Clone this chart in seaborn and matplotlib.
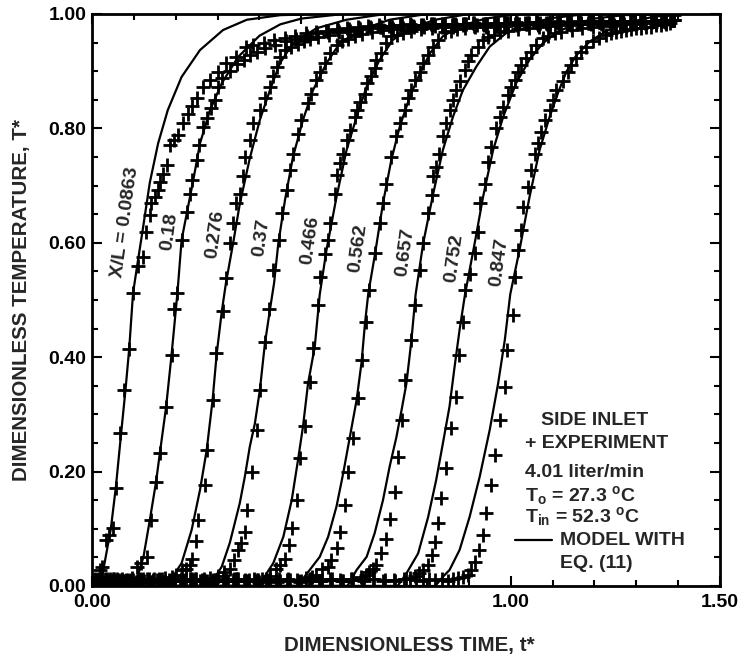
import numpy as np
import pandas as pd
import matplotlib
matplotlib.use("Agg")
import matplotlib.pyplot as plt
import seaborn as sns
from matplotlib.ticker import MultipleLocator, FormatStrFormatter

# ---------------- data ----------------
curve_labels = ["X/L = 0.0863", "0.18", "0.276", "0.37", "0.466",
                "0.562", "0.657", "0.752", "0.847"]

# model curves: (t*, T*)
model_0863 = [(0.0, 0.0), (0.015, 0.0), (0.022, 0.01), (0.030, 0.04), (0.045, 0.10),
              (0.057, 0.173), (0.070, 0.27), (0.080, 0.343), (0.089, 0.416), (0.098, 0.512),
              (0.110, 0.57), (0.121, 0.622), (0.138, 0.705), (0.158, 0.774), (0.181, 0.832),
              (0.214, 0.89), (0.258, 0.937), (0.313, 0.972), (0.37, 0.99), (0.45, 0.998),
              (0.55, 1.0), (1.40, 1.0)]
model_018 = [(0.0, 0.0), (0.09, 0.0), (0.10, 0.005), (0.111, 0.022), (0.123, 0.051),
             (0.138, 0.115), (0.153, 0.182), (0.162, 0.232), (0.177, 0.313), (0.190, 0.404),
             (0.204, 0.512), (0.214, 0.605), (0.242, 0.71), (0.258, 0.774), (0.282, 0.832),
             (0.31, 0.879), (0.349, 0.925), (0.40, 0.962), (0.45, 0.982), (0.50, 0.992),
             (0.60, 1.0), (1.40, 1.0)]
model_0276 = [(0.0, 0.0), (0.18, 0.0), (0.198, 0.022), (0.214, 0.04), (0.238, 0.098),
              (0.258, 0.168), (0.274, 0.238), (0.288, 0.325), (0.298, 0.407), (0.310, 0.48),
              (0.320, 0.53), (0.337, 0.599), (0.353, 0.668), (0.377, 0.748), (0.401, 0.815),
              (0.425, 0.867), (0.449, 0.914), (0.48, 0.949), (0.536, 0.975), (0.608, 0.99),
              (0.70, 1.0), (1.40, 1.0)]
model_037 = [(0.0, 0.0), (0.28, 0.0), (0.297, 0.019), (0.31, 0.034), (0.329, 0.075),
             (0.353, 0.145), (0.365, 0.191), (0.377, 0.244), (0.389, 0.284), (0.401, 0.343),
             (0.413, 0.424), (0.425, 0.483), (0.435, 0.53), (0.445, 0.599), (0.461, 0.675),
             (0.48, 0.75), (0.504, 0.815), (0.528, 0.867), (0.56, 0.914), (0.592, 0.949),
             (0.64, 0.972), (0.711, 0.99), (0.80, 1.0), (1.40, 1.0)]
model_0466 = [(0.0, 0.0), (0.40, 0.0), (0.417, 0.022), (0.433, 0.04), (0.457, 0.086),
              (0.477, 0.15), (0.492, 0.22), (0.504, 0.279), (0.516, 0.354), (0.532, 0.418),
              (0.544, 0.51), (0.56, 0.587), (0.584, 0.68), (0.608, 0.762), (0.632, 0.82),
              (0.656, 0.873), (0.687, 0.92), (0.719, 0.955), (0.76, 0.975), (0.82, 0.99),
              (0.90, 1.0), (1.40, 1.0)]
model_0562 = [(0.0, 0.0), (0.49, 0.0), (0.52, 0.028), (0.544, 0.051), (0.564, 0.086),
              (0.584, 0.139), (0.60, 0.197), (0.616, 0.261), (0.632, 0.325), (0.644, 0.392),
              (0.652, 0.459), (0.660, 0.512), (0.675, 0.576), (0.695, 0.669), (0.715, 0.745),
              (0.735, 0.803), (0.759, 0.855), (0.783, 0.896), (0.807, 0.931), (0.838, 0.961),
              (0.88, 0.979), (0.94, 0.992), (1.02, 1.0), (1.40, 1.0)]
model_0657 = [(0.0, 0.0), (0.61, 0.0), (0.632, 0.028), (0.656, 0.051), (0.675, 0.092),
              (0.695, 0.15), (0.711, 0.209), (0.727, 0.26), (0.740, 0.31), (0.751, 0.354),
              (0.763, 0.43), (0.773, 0.51), (0.791, 0.599), (0.815, 0.686), (0.838, 0.762),
              (0.862, 0.82), (0.886, 0.867), (0.918, 0.908), (0.95, 0.943), (0.99, 0.967),
              (1.04, 0.983), (1.10, 0.993), (1.18, 1.0), (1.40, 1.0)]
model_0752 = [(0.0, 0.0), (0.73, 0.0), (0.751, 0.022), (0.779, 0.057), (0.803, 0.121),
              (0.822, 0.185), (0.838, 0.249), (0.854, 0.314), (0.866, 0.383), (0.878, 0.448),
              (0.891, 0.51), (0.914, 0.599), (0.934, 0.68), (0.958, 0.762), (0.982, 0.82),
              (1.013, 0.879), (1.045, 0.92), (1.077, 0.949), (1.109, 0.967), (1.15, 0.982),
              (1.20, 0.992), (1.27, 0.998), (1.40, 1.0)]
model_0847 = [(0.0, 0.0), (0.82, 0.0), (0.838, 0.016), (0.854, 0.028), (0.878, 0.063),
              (0.902, 0.121), (0.926, 0.191), (0.95, 0.273), (0.97, 0.354), (0.986, 0.43),
              (0.999, 0.51), (1.021, 0.587), (1.045, 0.68), (1.069, 0.762), (1.093, 0.82),
              (1.113, 0.862), (1.133, 0.899), (1.157, 0.928), (1.189, 0.952), (1.228, 0.97),
              (1.28, 0.985), (1.34, 0.995), (1.40, 1.0)]

# experiment (crosses): (t*, T*)
exp_0863 = [(0.0, 0.010), (0.008, 0.012), (0.019, 0.028), (0.025, 0.034), (0.033, 0.080),
            (0.041, 0.090), (0.049, 0.101), (0.057, 0.171), (0.068, 0.268), (0.077, 0.343),
            (0.089, 0.414), (0.099, 0.512), (0.110, 0.560), (0.122, 0.576), (0.130, 0.619),
            (0.138, 0.649), (0.142, 0.669), (0.150, 0.680), (0.158, 0.692), (0.162, 0.707),
            (0.170, 0.720), (0.180, 0.736), (0.186, 0.771), (0.196, 0.779), (0.206, 0.788),
            (0.218, 0.809), (0.230, 0.826), (0.240, 0.840), (0.250, 0.853), (0.266, 0.873),
            (0.282, 0.885), (0.300, 0.899), (0.321, 0.914), (0.345, 0.925), (0.369, 0.943),
            (0.385, 0.946), (0.410, 0.950), (0.435, 0.955), (0.460, 0.958), (0.485, 0.962),
            (0.510, 0.966), (0.535, 0.968), (0.560, 0.971), (0.585, 0.973), (0.610, 0.976),
            (0.635, 0.977), (0.660, 0.979), (0.685, 0.980), (0.710, 0.979), (0.735, 0.981),
            (0.760, 0.982), (0.785, 0.980), (0.810, 0.982), (0.835, 0.983), (0.860, 0.981),
            (0.885, 0.983), (0.910, 0.984), (0.935, 0.982), (0.960, 0.984), (0.985, 0.985),
            (1.010, 0.983), (1.035, 0.985), (1.060, 0.986), (1.085, 0.984), (1.110, 0.986),
            (1.135, 0.985), (1.160, 0.987), (1.185, 0.985), (1.210, 0.986), (1.235, 0.988),
            (1.260, 0.986), (1.285, 0.987), (1.310, 0.988), (1.335, 0.986), (1.360, 0.988),
            (1.385, 0.990)]
exp_018 = [(0.003, 0.010), (0.028, 0.007), (0.053, 0.012), (0.078, 0.009), (0.095, 0.014),
           (0.107, 0.034), (0.118, 0.040), (0.132, 0.051), (0.140, 0.115), (0.153, 0.182),
           (0.162, 0.232), (0.177, 0.313), (0.190, 0.404), (0.196, 0.485), (0.204, 0.512),
           (0.214, 0.605), (0.226, 0.654), (0.234, 0.686), (0.240, 0.710), (0.250, 0.745),
           (0.256, 0.771), (0.266, 0.803), (0.274, 0.818), (0.284, 0.835), (0.294, 0.850),
           (0.302, 0.873), (0.310, 0.888), (0.330, 0.900), (0.347, 0.912), (0.362, 0.920),
           (0.378, 0.928), (0.394, 0.934), (0.413, 0.940), (0.438, 0.946), (0.463, 0.952),
           (0.488, 0.957), (0.513, 0.962), (0.538, 0.966), (0.563, 0.969), (0.588, 0.972),
           (0.613, 0.974), (0.638, 0.976), (0.663, 0.978), (0.688, 0.977), (0.713, 0.979),
           (0.738, 0.980), (0.763, 0.981), (0.788, 0.979), (0.813, 0.982), (0.838, 0.981),
           (0.863, 0.983), (0.888, 0.982), (0.913, 0.984), (0.938, 0.983), (0.963, 0.985),
           (0.988, 0.984), (1.013, 0.986), (1.038, 0.984), (1.063, 0.986), (1.088, 0.985),
           (1.113, 0.987), (1.138, 0.985), (1.163, 0.986), (1.188, 0.988), (1.213, 0.986),
           (1.238, 0.987), (1.263, 0.988), (1.288, 0.986), (1.313, 0.988), (1.338, 0.987),
           (1.363, 0.989), (1.388, 0.990)]
exp_0276 = [(0.006, 0.008), (0.031, 0.012), (0.056, 0.009), (0.081, 0.011), (0.106, 0.007),
            (0.131, 0.012), (0.156, 0.010), (0.175, 0.014), (0.190, 0.016), (0.200, 0.020),
            (0.215, 0.028), (0.225, 0.030), (0.234, 0.036), (0.238, 0.048), (0.248, 0.079),
            (0.254, 0.115), (0.270, 0.177), (0.274, 0.238), (0.288, 0.325), (0.297, 0.407),
            (0.312, 0.480), (0.321, 0.538), (0.329, 0.599), (0.336, 0.634), (0.345, 0.669),
            (0.353, 0.686), (0.361, 0.716), (0.365, 0.750), (0.377, 0.780), (0.385, 0.809),
            (0.401, 0.832), (0.413, 0.853), (0.425, 0.873), (0.433, 0.891), (0.441, 0.908),
            (0.449, 0.925), (0.461, 0.937), (0.476, 0.943), (0.491, 0.948), (0.506, 0.952),
            (0.521, 0.956), (0.541, 0.960), (0.566, 0.964), (0.591, 0.968), (0.616, 0.971),
            (0.641, 0.973), (0.666, 0.975), (0.691, 0.977), (0.716, 0.978), (0.741, 0.980),
            (0.766, 0.979), (0.791, 0.981), (0.816, 0.982), (0.841, 0.980), (0.866, 0.982),
            (0.891, 0.983), (0.916, 0.981), (0.941, 0.983), (0.966, 0.984), (0.991, 0.982),
            (1.016, 0.984), (1.041, 0.985), (1.066, 0.983), (1.091, 0.985), (1.116, 0.986),
            (1.141, 0.984), (1.166, 0.986), (1.191, 0.987), (1.216, 0.985), (1.241, 0.987),
            (1.266, 0.988), (1.291, 0.986), (1.316, 0.988), (1.341, 0.987), (1.366, 0.989),
            (1.386, 0.990)]
exp_037 = [(0.009, 0.011), (0.034, 0.008), (0.059, 0.013), (0.084, 0.009), (0.109, 0.011),
           (0.134, 0.007), (0.159, 0.012), (0.184, 0.010), (0.209, 0.008), (0.234, 0.012),
           (0.259, 0.009), (0.282, 0.014), (0.300, 0.018), (0.315, 0.024), (0.330, 0.030),
           (0.340, 0.045), (0.348, 0.063), (0.357, 0.075), (0.365, 0.095), (0.371, 0.133),
           (0.383, 0.200), (0.393, 0.273), (0.401, 0.343), (0.413, 0.427), (0.423, 0.485),
           (0.433, 0.552), (0.447, 0.605), (0.453, 0.652), (0.465, 0.692), (0.473, 0.727),
           (0.480, 0.756), (0.492, 0.791), (0.500, 0.815), (0.516, 0.844), (0.524, 0.861),
           (0.536, 0.885), (0.544, 0.899), (0.556, 0.914), (0.568, 0.931), (0.584, 0.946),
           (0.597, 0.952), (0.612, 0.957), (0.627, 0.961), (0.644, 0.965), (0.669, 0.969),
           (0.694, 0.972), (0.719, 0.974), (0.744, 0.976), (0.769, 0.978), (0.794, 0.977),
           (0.819, 0.979), (0.844, 0.981), (0.869, 0.980), (0.894, 0.982), (0.919, 0.981),
           (0.944, 0.983), (0.969, 0.982), (0.994, 0.984), (1.019, 0.983), (1.044, 0.985),
           (1.069, 0.984), (1.094, 0.986), (1.119, 0.984), (1.144, 0.986), (1.169, 0.985),
           (1.194, 0.987), (1.219, 0.985), (1.244, 0.987), (1.269, 0.986), (1.294, 0.988),
           (1.319, 0.986), (1.344, 0.988), (1.369, 0.987), (1.389, 0.990)]
exp_0466 = [(0.012, 0.009), (0.037, 0.012), (0.062, 0.007), (0.087, 0.011), (0.112, 0.008),
            (0.137, 0.013), (0.162, 0.010), (0.187, 0.008), (0.212, 0.012), (0.237, 0.009),
            (0.262, 0.011), (0.287, 0.007), (0.312, 0.012), (0.337, 0.010), (0.362, 0.008),
            (0.387, 0.012), (0.405, 0.013), (0.425, 0.018), (0.440, 0.030), (0.449, 0.037),
            (0.461, 0.048), (0.471, 0.072), (0.477, 0.101), (0.489, 0.150), (0.496, 0.223),
            (0.508, 0.279), (0.520, 0.357), (0.528, 0.416), (0.540, 0.491), (0.544, 0.541),
            (0.556, 0.580), (0.564, 0.605), (0.568, 0.634), (0.580, 0.686), (0.584, 0.719),
            (0.592, 0.739), (0.600, 0.756), (0.608, 0.780), (0.616, 0.797), (0.628, 0.820),
            (0.632, 0.832), (0.640, 0.847), (0.652, 0.861), (0.656, 0.879), (0.667, 0.891),
            (0.675, 0.905), (0.679, 0.920), (0.691, 0.931), (0.703, 0.949), (0.715, 0.961),
            (0.729, 0.964), (0.744, 0.967), (0.762, 0.970), (0.787, 0.973), (0.812, 0.975),
            (0.837, 0.977), (0.862, 0.978), (0.887, 0.980), (0.912, 0.979), (0.937, 0.981),
            (0.962, 0.982), (0.987, 0.981), (1.012, 0.983), (1.037, 0.982), (1.062, 0.984),
            (1.087, 0.983), (1.112, 0.985), (1.137, 0.984), (1.162, 0.986), (1.187, 0.985),
            (1.212, 0.986), (1.237, 0.987), (1.262, 0.985), (1.287, 0.987), (1.312, 0.988),
            (1.337, 0.986), (1.362, 0.988), (1.384, 0.990)]
exp_0562 = [(0.015, 0.012), (0.040, 0.008), (0.065, 0.011), (0.090, 0.009), (0.115, 0.013),
            (0.140, 0.007), (0.165, 0.011), (0.190, 0.010), (0.215, 0.008), (0.240, 0.012),
            (0.265, 0.009), (0.290, 0.011), (0.315, 0.008), (0.340, 0.013), (0.365, 0.010),
            (0.390, 0.008), (0.415, 0.012), (0.440, 0.009), (0.465, 0.011), (0.490, 0.010),
            (0.510, 0.014), (0.525, 0.016), (0.535, 0.020), (0.550, 0.030), (0.564, 0.034),
            (0.572, 0.045), (0.584, 0.066), (0.592, 0.095), (0.604, 0.142), (0.612, 0.200),
            (0.624, 0.258), (0.636, 0.328), (0.646, 0.395), (0.654, 0.462), (0.661, 0.517),
            (0.675, 0.582), (0.687, 0.634), (0.695, 0.669), (0.703, 0.703), (0.715, 0.750),
            (0.727, 0.786), (0.735, 0.809), (0.747, 0.832), (0.755, 0.853), (0.763, 0.867),
            (0.771, 0.885), (0.783, 0.899), (0.791, 0.914), (0.803, 0.928), (0.815, 0.943),
            (0.827, 0.955), (0.842, 0.969), (0.857, 0.971), (0.872, 0.973), (0.890, 0.975),
            (0.915, 0.977), (0.940, 0.978), (0.965, 0.980), (0.990, 0.979), (1.015, 0.981),
            (1.040, 0.982), (1.065, 0.981), (1.090, 0.983), (1.115, 0.982), (1.140, 0.984),
            (1.165, 0.983), (1.190, 0.985), (1.215, 0.984), (1.240, 0.986), (1.265, 0.985),
            (1.290, 0.987), (1.315, 0.986), (1.340, 0.988), (1.365, 0.987), (1.388, 0.990)]
exp_0657 = [(0.018, 0.009), (0.043, 0.013), (0.068, 0.008), (0.093, 0.011), (0.118, 0.010),
            (0.143, 0.007), (0.168, 0.012), (0.193, 0.009), (0.218, 0.011), (0.243, 0.008),
            (0.268, 0.012), (0.293, 0.010), (0.318, 0.009), (0.343, 0.013), (0.368, 0.008),
            (0.393, 0.011), (0.418, 0.010), (0.443, 0.007), (0.468, 0.012), (0.493, 0.009),
            (0.518, 0.011), (0.543, 0.008), (0.568, 0.012), (0.593, 0.010), (0.618, 0.013),
            (0.643, 0.016), (0.655, 0.020), (0.662, 0.024), (0.670, 0.030), (0.679, 0.037),
            (0.691, 0.057), (0.703, 0.083), (0.711, 0.118), (0.723, 0.165), (0.731, 0.226),
            (0.741, 0.290), (0.747, 0.360), (0.763, 0.430), (0.771, 0.491), (0.783, 0.552),
            (0.791, 0.599), (0.803, 0.652), (0.811, 0.684), (0.815, 0.716), (0.822, 0.733),
            (0.830, 0.756), (0.838, 0.786), (0.846, 0.809), (0.854, 0.832), (0.862, 0.850),
            (0.870, 0.867), (0.878, 0.882), (0.890, 0.902), (0.898, 0.917), (0.906, 0.928),
            (0.922, 0.943), (0.934, 0.955), (0.947, 0.960), (0.960, 0.964), (0.975, 0.968),
            (0.993, 0.971), (1.018, 0.974), (1.043, 0.976), (1.068, 0.978), (1.093, 0.979),
            (1.118, 0.981), (1.143, 0.980), (1.168, 0.982), (1.193, 0.983), (1.218, 0.982),
            (1.243, 0.984), (1.268, 0.985), (1.293, 0.984), (1.318, 0.986), (1.343, 0.987),
            (1.368, 0.986), (1.390, 0.990)]
exp_0752 = [(0.021, 0.011), (0.046, 0.008), (0.071, 0.012), (0.096, 0.009), (0.121, 0.013),
            (0.146, 0.010), (0.171, 0.007), (0.196, 0.011), (0.221, 0.009), (0.246, 0.012),
            (0.271, 0.008), (0.296, 0.011), (0.321, 0.010), (0.346, 0.013), (0.371, 0.008),
            (0.396, 0.011), (0.421, 0.009), (0.446, 0.012), (0.471, 0.010), (0.496, 0.007),
            (0.521, 0.012), (0.546, 0.009), (0.571, 0.011), (0.596, 0.008), (0.621, 0.012),
            (0.646, 0.010), (0.671, 0.013), (0.696, 0.009), (0.721, 0.011), (0.746, 0.012),
            (0.760, 0.014), (0.772, 0.018), (0.782, 0.022), (0.791, 0.028), (0.803, 0.037),
            (0.811, 0.054), (0.819, 0.077), (0.826, 0.110), (0.834, 0.153), (0.846, 0.206),
            (0.858, 0.276), (0.869, 0.331), (0.877, 0.404), (0.885, 0.462), (0.892, 0.517),
            (0.902, 0.545), (0.914, 0.582), (0.922, 0.619), (0.926, 0.669), (0.938, 0.703),
            (0.946, 0.742), (0.954, 0.768), (0.966, 0.800), (0.974, 0.820), (0.982, 0.838),
            (0.994, 0.858), (1.001, 0.873), (1.010, 0.885), (1.017, 0.899), (1.025, 0.911),
            (1.037, 0.923), (1.049, 0.934), (1.061, 0.946), (1.077, 0.958), (1.090, 0.962),
            (1.105, 0.966), (1.121, 0.969), (1.146, 0.972), (1.171, 0.975), (1.196, 0.977),
            (1.221, 0.979), (1.246, 0.980), (1.271, 0.982), (1.296, 0.983), (1.321, 0.984),
            (1.346, 0.985), (1.371, 0.986), (1.389, 0.990)]
exp_0847 = [(0.024, 0.010), (0.049, 0.013), (0.074, 0.008), (0.099, 0.011), (0.124, 0.009),
            (0.149, 0.012), (0.174, 0.007), (0.199, 0.011), (0.224, 0.010), (0.249, 0.013),
            (0.274, 0.008), (0.299, 0.011), (0.324, 0.009), (0.349, 0.012), (0.374, 0.010),
            (0.399, 0.007), (0.424, 0.012), (0.449, 0.009), (0.474, 0.011), (0.499, 0.008),
            (0.524, 0.012), (0.549, 0.010), (0.574, 0.013), (0.599, 0.009), (0.624, 0.011),
            (0.649, 0.008), (0.674, 0.012), (0.699, 0.010), (0.724, 0.009), (0.749, 0.012),
            (0.774, 0.010), (0.790, 0.008), (0.805, 0.012), (0.820, 0.010), (0.835, 0.013),
            (0.850, 0.009), (0.862, 0.012), (0.874, 0.014), (0.886, 0.016), (0.897, 0.020),
            (0.906, 0.028), (0.914, 0.042), (0.924, 0.063), (0.934, 0.089), (0.942, 0.127),
            (0.954, 0.177), (0.962, 0.229), (0.974, 0.290), (0.986, 0.348), (0.992, 0.413),
            (1.006, 0.474), (1.010, 0.541), (1.017, 0.587), (1.025, 0.622), (1.029, 0.663),
            (1.041, 0.698), (1.049, 0.727), (1.057, 0.756), (1.065, 0.774), (1.073, 0.794),
            (1.081, 0.815), (1.093, 0.832), (1.101, 0.850), (1.109, 0.867), (1.125, 0.882),
            (1.137, 0.899), (1.145, 0.911), (1.157, 0.923), (1.169, 0.934), (1.181, 0.943),
            (1.197, 0.952), (1.212, 0.958), (1.228, 0.963), (1.240, 0.966), (1.252, 0.969),
            (1.264, 0.970), (1.276, 0.972), (1.288, 0.973), (1.300, 0.975), (1.312, 0.976),
            (1.324, 0.977), (1.336, 0.978), (1.348, 0.980), (1.360, 0.981), (1.372, 0.983),
            (1.380, 0.985), (1.387, 0.990), (1.391, 0.998)]

x_ticks = [0.0, 0.5, 1.0, 1.5]
y_ticks = [0.0, 0.2, 0.4, 0.6, 0.8, 1.0]

legend_lines = ["+ EXPERIMENT", "4.01 liter/min",
                r"T$_{\rm o}$ = 27.3 $^{\rm o}$C",
                r"T$_{\rm in}$ = 52.3 $^{\rm o}$C"]

models = [model_0863, model_018, model_0276, model_037, model_0466,
          model_0562, model_0657, model_0752, model_0847]
exps = [exp_0863, exp_018, exp_0276, exp_037, exp_0466,
        exp_0562, exp_0657, exp_0752, exp_0847]

model_df = pd.concat([pd.DataFrame(m, columns=["t", "T"]).assign(curve=k)
                      for k, m in enumerate(models)], ignore_index=True)
exp_df = pd.concat([pd.DataFrame(e, columns=["t", "T"]).assign(curve=k)
                    for k, e in enumerate(exps)], ignore_index=True)

# ---------------- style ----------------
sns.set_style("ticks")
plt.rcParams["font.family"] = ["Liberation Sans", "DejaVu Sans"]
plt.rcParams["font.weight"] = "bold"
plt.rcParams["mathtext.fontset"] = "custom"
plt.rcParams["mathtext.rm"] = "Liberation Sans:bold"
plt.rcParams["mathtext.it"] = "Liberation Sans:bold"
plt.rcParams["mathtext.bf"] = "Liberation Sans:bold"

FS = 14
FSL = 14.8
W, H = 739, 657
fig = plt.figure(figsize=(W / 100, H / 100), dpi=100)
ax = fig.add_axes([92 / W, 1 - 586 / H, 628 / W, 572 / H])

sns.lineplot(data=model_df, x="t", y="T", units="curve", estimator=None,
             sort=False, color="black", lw=1.6, ax=ax, legend=False)
sns.scatterplot(data=exp_df, x="t", y="T", marker="+", s=110, color="black",
                linewidth=2.0, ax=ax, legend=False, zorder=3)

ax.set_xlim(0, 1.5)
ax.set_ylim(0, 1.0)
ax.set_xticks(x_ticks)
ax.set_yticks(y_ticks)
ax.xaxis.set_minor_locator(MultipleLocator(0.1))
ax.yaxis.set_minor_locator(MultipleLocator(0.05))
ax.xaxis.set_major_formatter(FormatStrFormatter("%.2f"))
ax.yaxis.set_major_formatter(FormatStrFormatter("%.2f"))
ax.tick_params(which="both", direction="in", top=True, right=True,
               width=1.5, colors="black")
ax.tick_params(which="major", length=7, labelsize=FS)
ax.tick_params(which="minor", length=4)
ax.tick_params(axis="x", which="major", pad=6)
ax.tick_params(axis="y", which="major", pad=4)
for lab in ax.get_xticklabels() + ax.get_yticklabels():
    lab.set_fontweight("bold")
for sp in ax.spines.values():
    sp.set_linewidth(2.0)
    sp.set_color("black")

ax.set_xlabel("DIMENSIONLESS TIME, t*", fontsize=FSL, fontweight="bold")
ax.set_ylabel("DIMENSIONLESS TEMPERATURE, T*", fontsize=FSL, fontweight="bold")
ax.xaxis.set_label_coords(0.506, -0.088)
ax.yaxis.set_label_coords(-0.097, 0.5)

# curve labels (X/L)
label_pos = [(0.080, 0.636), (0.186, 0.620), (0.294, 0.615), (0.405, 0.610),
             (0.520, 0.605), (0.636, 0.591), (0.749, 0.584), (0.866, 0.573),
             (0.972, 0.566)]
for txt, (lx, ly) in zip(curve_labels, label_pos):
    ax.text(lx, ly, txt, rotation=82, ha="center", va="center",
            fontsize=FS, fontweight="bold", zorder=4)

# legend block
ax.text(0.801, 0.290, "SIDE INLET", transform=ax.transAxes, ha="center",
        va="center", fontsize=FS, fontweight="bold")
leg_y = [0.250, 0.199, 0.159, 0.121]
for txt, yy in zip(legend_lines, leg_y):
    ax.text(0.6895, yy, txt, transform=ax.transAxes, ha="left", va="center",
            fontsize=FS, fontweight="bold")
ax.plot([0.6736, 0.7325], [0.080, 0.080], transform=ax.transAxes,
        color="black", lw=1.6)
ax.text(0.745, 0.080, "MODEL WITH", transform=ax.transAxes, ha="left",
        va="center", fontsize=FS, fontweight="bold")
ax.text(0.745, 0.040, "EQ. (11)", transform=ax.transAxes, ha="left",
        va="center", fontsize=FS, fontweight="bold")

fig.savefig("out.png", dpi=100, facecolor="white")
